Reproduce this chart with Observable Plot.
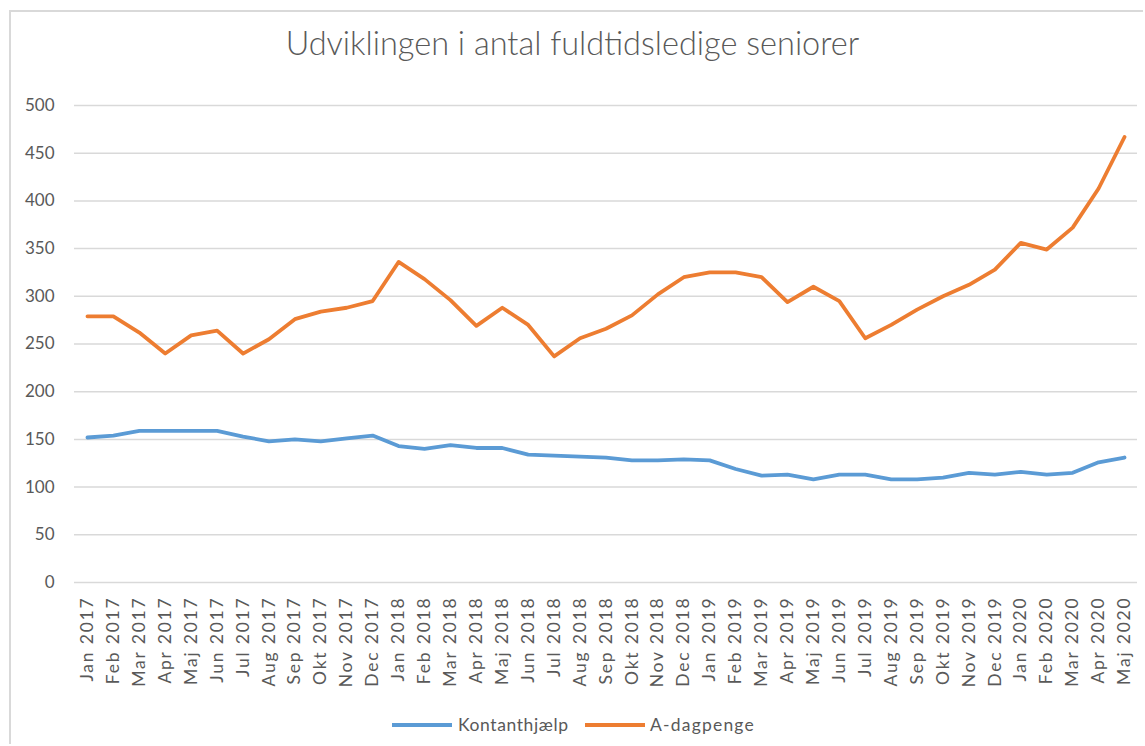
<!DOCTYPE html>
<html>
<head>
<meta charset="utf-8">
<script src="https://cdn.jsdelivr.net/npm/d3@7"></script>
<script src="https://cdn.jsdelivr.net/npm/@observablehq/plot@0.6"></script>
<style>
  html, body { margin: 0; padding: 0; background: #fff; overflow: hidden; }
  body { width: 1145px; height: 746px; position: relative; font-family: Lato, "Open Sans", sans-serif; color: #595959; }
  #frame { position: absolute; left: 9px; top: 10px; width: 1134px; height: 734px; border-left: 2px solid #d9d9d9; border-top: 2px solid #d9d9d9; box-sizing: border-box; }
  #title { position: absolute; left: 0; top: 0; width: 1145px; height: 85px; text-align: center; font-size: 32.5px; line-height: 86px; font-weight: 300; color: #595959; }
  #chart { position: absolute; left: 0; top: 85px; }
  #chart svg g[aria-label="x-axis tick label"] text { letter-spacing: 1.8px; }
  #legend { position: absolute; left: 0; top: 713px; width: 1145px; height: 24px; font-size: 17.5px; line-height: 24px; }
  .sw { position: absolute; top: 10px; width: 60px; height: 4px; }
  .lt { position: absolute; top: 0; line-height: 24px; }
</style>
</head>
<body>
<div id="frame"></div>
<div id="title">Udviklingen i antal fuldtidsledige seniorer</div>
<div id="chart"></div>
<div id="legend"></div>
<script>
const months = [
  "Jan 2017","Feb 2017","Mar 2017","Apr 2017","Maj 2017","Jun 2017","Jul 2017","Aug 2017","Sep 2017","Okt 2017","Nov 2017","Dec 2017",
  "Jan 2018","Feb 2018","Mar 2018","Apr 2018","Maj 2018","Jun 2018","Jul 2018","Aug 2018","Sep 2018","Okt 2018","Nov 2018","Dec 2018",
  "Jan 2019","Feb 2019","Mar 2019","Apr 2019","Maj 2019","Jun 2019","Jul 2019","Aug 2019","Sep 2019","Okt 2019","Nov 2019","Dec 2019",
  "Jan 2020","Feb 2020","Mar 2020","Apr 2020","Maj 2020"
];
const kontanthjaelp = [
  152,154,159,159,159,159,153,148,150,148,151,154,
  143,140,144,141,141,134,133,132,131,128,128,129,
  128,119,112,113,108,113,113,108,108,110,115,113,
  116,113,115,126,131
];
const adagpenge = [
  279,279,262,240,259,264,240,255,276,284,288,295,
  336,318,296,269,288,270,237,256,266,280,302,320,
  325,325,320,294,310,295,256,270,286,300,312,328,
  356,349,372,413,467
];
const seriesNames = ["Kontanthjælp", "A-dagpenge"];
const seriesColors = ["#5B9BD5", "#ED7D31"];
const yTicks = [0, 50, 100, 150, 200, 250, 300, 350, 400, 450, 500];

const data = [];
months.forEach((m, i) => {
  data.push({month: m, value: kontanthjaelp[i], series: seriesNames[0]});
  data.push({month: m, value: adagpenge[i], series: seriesNames[1]});
});

const chart = Plot.plot({
  width: 1145,
  height: 622,
  marginLeft: 74,
  marginRight: 8,
  marginTop: 20,
  marginBottom: 125,
  style: {fontFamily: "Lato, 'Open Sans', sans-serif", color: "#595959", background: "transparent"},
  x: {type: "point", domain: months, padding: 0.5},
  y: {domain: [0, 500]},
  color: {domain: seriesNames, range: seriesColors},
  marks: [
    Plot.gridY(yTicks, {stroke: "#d9d9d9", strokeOpacity: 1, strokeWidth: 1.5}),
    Plot.axisY(yTicks, {tickSize: 0, tickPadding: 20, label: null, fontSize: 17}),
    Plot.axisX({tickRotate: -90, tickSize: 0, tickPadding: 14, label: null, fontSize: 17.5}),
    Plot.lineY(data, {x: "month", y: "value", z: "series", stroke: "series", strokeWidth: 3.8, strokeLinejoin: "round", strokeLinecap: "round"})
  ]
});
document.getElementById("chart").appendChild(chart);

const legend = document.getElementById("legend");
const pos = [[392, 458, 0.6], [585, 650, 1.2]];
seriesNames.forEach((name, i) => {
  const sw = document.createElement("div");
  sw.className = "sw";
  sw.style.left = pos[i][0] + "px";
  sw.style.background = seriesColors[i];
  legend.appendChild(sw);
  const t = document.createElement("div");
  t.className = "lt";
  t.style.left = pos[i][1] + "px";
  t.style.letterSpacing = pos[i][2] + "px";
  t.textContent = name;
  legend.appendChild(t);
});
</script>
</body>
</html>
